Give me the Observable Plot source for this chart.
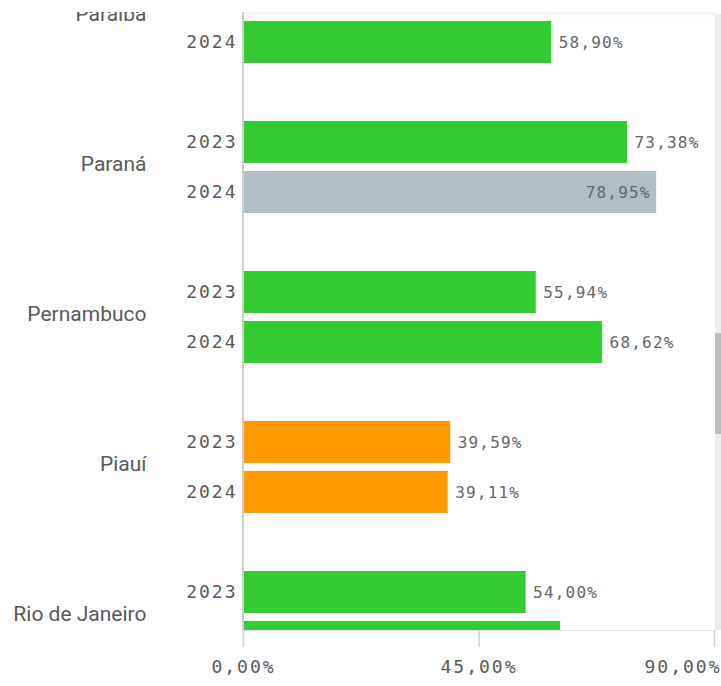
<!DOCTYPE html>
<html><head><meta charset="utf-8">
<script src="https://cdn.jsdelivr.net/npm/d3@7"></script>
<script src="https://cdn.jsdelivr.net/npm/@observablehq/plot@0.6"></script>
<style>
body{margin:0;background:#fff;}
#wrap{position:relative;width:721px;height:686px;overflow:hidden;background:#fff;}
#view{position:absolute;left:0;top:12px;width:721px;height:618px;overflow:hidden;}
#view svg{position:absolute;left:0;top:-70px;}
#axis{position:absolute;left:0;top:630px;}
#shadowTop{position:absolute;left:244px;top:12px;width:471px;height:6px;background:linear-gradient(#f0f0f0,rgba(255,255,255,0));}
#bottomLine{position:absolute;left:244px;top:630px;width:471px;height:1px;background:#e3e3e3;}
#yline{position:absolute;left:242.25px;top:12px;width:1.5px;height:618px;background:#cfcfcf;}
#track{position:absolute;left:715px;top:14px;width:6px;height:616px;background:#eeeeee;}
#thumb{position:absolute;left:715px;top:333px;width:6px;height:101px;background:#bcbcbc;}
</style>
</head><body>
<div id="wrap">
  <div id="view"></div>
  <div id="shadowTop"></div>
  <div id="bottomLine"></div>
  <div id="yline"></div>
  <div id="axis"></div>
  <div id="track"></div>
  <div id="thumb"></div>
</div>
<script>
const states = ["Paraíba", "Paraná", "Pernambuco", "Piauí", "Rio de Janeiro"];
const years = ["2023", "2024"];
const barState = ["Paraíba", "Paraná", "Paraná", "Pernambuco", "Pernambuco", "Piauí", "Piauí", "Rio de Janeiro", "Rio de Janeiro"];
const barYear  = ["2024", "2023", "2024", "2023", "2024", "2023", "2024", "2023", "2024"];
const barValue = [58.90, 73.38, 78.95, 55.94, 68.62, 39.59, 39.11, 54.00, 60.60];
const xTicks = [0, 45, 90];

const rows = barValue.map((v, i) => ({state: barState[i], year: barYear[i], value: v}));
const loc = d3.formatLocale({decimal: ",", thousands: ".", grouping: [3], currency: ["R$", ""]});
const pct = loc.format(".2%");
const fmt = v => pct(v / 100);

const MONO = "'DejaVu Sans Mono', monospace";
const SANS = "Roboto, 'Noto Sans', sans-serif";

function spacing(svg) {
  d3.select(svg).selectAll("g").each(function () {
    const fs = this.getAttribute("font-size");
    const ff = this.getAttribute("font-family");
    if (ff && ff.includes("Mono")) {
      this.setAttribute("letter-spacing", fs === "16" ? "1.2px" : "2px");
    }
  });
}

const main = Plot.plot({
  width: 721, height: 750,
  marginLeft: 243, marginRight: 7, marginTop: 0, marginBottom: 0,
  x: {domain: [0, 90], axis: null},
  y: {domain: years, axis: null, paddingInner: 0.16, paddingOuter: 0.08, round: false},
  fy: {domain: states, axis: null, paddingInner: 1/3, paddingOuter: 1/6, round: false},
  color: {type: "threshold", domain: [50, 75], range: ["#FF9900", "#33CC33", "#B0BEC5"]},
  marks: [
    Plot.barX(rows, {fy: "state", y: "year", x: "value", fill: "value"}),
    Plot.text(rows.filter(d => d.value < 75), {
      fy: "state", y: "year", x: "value", text: d => fmt(d.value),
      textAnchor: "start", dx: 7, fill: "#666", fontFamily: MONO, fontSize: 16
    }),
    Plot.text(rows.filter(d => d.value >= 75), {
      fy: "state", y: "year", x: "value", text: d => fmt(d.value),
      textAnchor: "end", dx: -6, fill: "#666", fontFamily: MONO, fontSize: 16
    }),
    Plot.text(rows, {
      fy: "state", y: "year", text: "year", frameAnchor: "left",
      textAnchor: "end", dx: -6, fill: "#595959", fontFamily: MONO, fontSize: 18
    }),
    Plot.text(states, {
      fy: d => d, text: d => d, frameAnchor: "left",
      textAnchor: "end", dx: -97, dy: -3, fill: "#595959", fontFamily: SANS, fontSize: 21
    })
  ]
});
spacing(main);
document.getElementById("view").appendChild(main);

const axis = Plot.plot({
  width: 721, height: 56,
  marginLeft: 243, marginRight: 7, marginTop: 0, marginBottom: 39,
  x: {domain: [0, 90], axis: null},
  marks: [
    Plot.tickX(xTicks, {x: d => d, stroke: "#cfcfcf", strokeWidth: 1.5}),
    Plot.text(xTicks.filter(d => d < 90), {
      x: d => d, text: d => fmt(d), frameAnchor: "bottom", dy: 25,
      textAnchor: "middle", fill: "#595959", fontFamily: MONO, fontSize: 18
    }),
    Plot.text(xTicks.filter(d => d >= 90), {
      x: d => d, text: d => fmt(d), frameAnchor: "bottom", dy: 25,
      textAnchor: "end", dx: 7, fill: "#595959", fontFamily: MONO, fontSize: 18
    })
  ]
});
spacing(axis);
document.getElementById("axis").appendChild(axis);
</script>
</body></html>
